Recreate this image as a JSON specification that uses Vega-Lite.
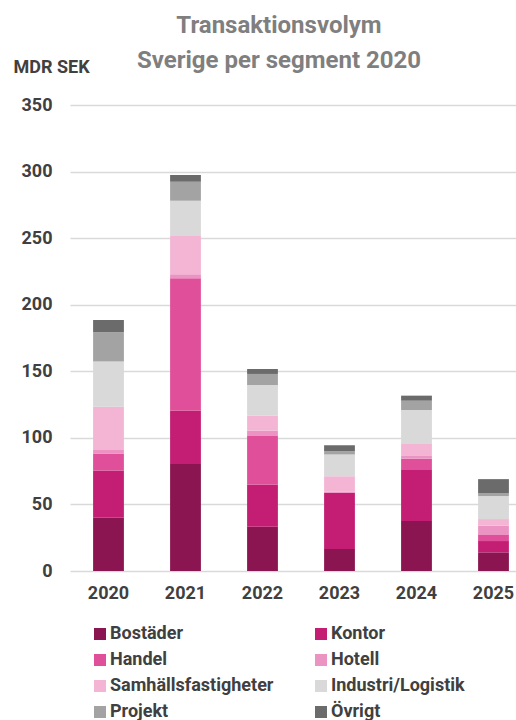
{
  "$schema": "https://vega.github.io/schema/vega-lite/v6.json",
  "width": 446,
  "height": 466,
  "autosize": {"type": "none"},
  "padding": {"left": 70, "top": 105, "right": 0, "bottom": 149},
  "background": "white",
  "title": {
    "text": "Transaktionsvolym",
    "subtitle": "Sverige per segment 2020",
    "anchor": "middle",
    "frame": "group",
    "dx": -14,
    "offset": -15,
    "font": "Roboto",
    "fontSize": 24,
    "fontWeight": "bold",
    "color": "#7f7f7f",
    "subtitleFont": "Roboto",
    "subtitleFontSize": 24,
    "subtitleFontWeight": "bold",
    "subtitleColor": "#7f7f7f",
    "subtitlePadding": 11
  },
  "config": {
    "view": {"stroke": null},
    "font": "Roboto"
  },
  "data": {
    "values": [
      {"year": "2020", "segment": "Bostäder", "order": 1, "value": 40},
      {"year": "2020", "segment": "Kontor", "order": 2, "value": 35.5},
      {"year": "2020", "segment": "Handel", "order": 3, "value": 12.8},
      {"year": "2020", "segment": "Hotell", "order": 4, "value": 2.5},
      {"year": "2020", "segment": "Samhällsfastigheter", "order": 5, "value": 32.5},
      {"year": "2020", "segment": "Industri/Logistik", "order": 6, "value": 34},
      {"year": "2020", "segment": "Projekt", "order": 7, "value": 22},
      {"year": "2020", "segment": "Övrigt", "order": 8, "value": 9.3},
      {"year": "2021", "segment": "Bostäder", "order": 1, "value": 80.4},
      {"year": "2021", "segment": "Kontor", "order": 2, "value": 40},
      {"year": "2021", "segment": "Handel", "order": 3, "value": 99.4},
      {"year": "2021", "segment": "Hotell", "order": 4, "value": 3},
      {"year": "2021", "segment": "Samhällsfastigheter", "order": 5, "value": 28.8},
      {"year": "2021", "segment": "Industri/Logistik", "order": 6, "value": 26.4},
      {"year": "2021", "segment": "Projekt", "order": 7, "value": 14.4},
      {"year": "2021", "segment": "Övrigt", "order": 8, "value": 5},
      {"year": "2022", "segment": "Bostäder", "order": 1, "value": 33.3},
      {"year": "2022", "segment": "Kontor", "order": 2, "value": 31.5},
      {"year": "2022", "segment": "Handel", "order": 3, "value": 36.6},
      {"year": "2022", "segment": "Hotell", "order": 4, "value": 4},
      {"year": "2022", "segment": "Samhällsfastigheter", "order": 5, "value": 11.2},
      {"year": "2022", "segment": "Industri/Logistik", "order": 6, "value": 23.1},
      {"year": "2022", "segment": "Projekt", "order": 7, "value": 8.3},
      {"year": "2022", "segment": "Övrigt", "order": 8, "value": 3.7},
      {"year": "2023", "segment": "Bostäder", "order": 1, "value": 16.5},
      {"year": "2023", "segment": "Kontor", "order": 2, "value": 42},
      {"year": "2023", "segment": "Handel", "order": 3, "value": 0.5},
      {"year": "2023", "segment": "Hotell", "order": 4, "value": 0.7},
      {"year": "2023", "segment": "Samhällsfastigheter", "order": 5, "value": 11.5},
      {"year": "2023", "segment": "Industri/Logistik", "order": 6, "value": 16.3},
      {"year": "2023", "segment": "Projekt", "order": 7, "value": 2.5},
      {"year": "2023", "segment": "Övrigt", "order": 8, "value": 4.5},
      {"year": "2024", "segment": "Bostäder", "order": 1, "value": 37.6},
      {"year": "2024", "segment": "Kontor", "order": 2, "value": 38.8},
      {"year": "2024", "segment": "Handel", "order": 3, "value": 8},
      {"year": "2024", "segment": "Hotell", "order": 4, "value": 2},
      {"year": "2024", "segment": "Samhällsfastigheter", "order": 5, "value": 9},
      {"year": "2024", "segment": "Industri/Logistik", "order": 6, "value": 25.5},
      {"year": "2024", "segment": "Projekt", "order": 7, "value": 7},
      {"year": "2024", "segment": "Övrigt", "order": 8, "value": 3.8},
      {"year": "2025", "segment": "Bostäder", "order": 1, "value": 14},
      {"year": "2025", "segment": "Kontor", "order": 2, "value": 8.5},
      {"year": "2025", "segment": "Handel", "order": 3, "value": 5},
      {"year": "2025", "segment": "Hotell", "order": 4, "value": 6.5},
      {"year": "2025", "segment": "Samhällsfastigheter", "order": 5, "value": 5},
      {"year": "2025", "segment": "Industri/Logistik", "order": 6, "value": 17.3},
      {"year": "2025", "segment": "Projekt", "order": 7, "value": 2},
      {"year": "2025", "segment": "Övrigt", "order": 8, "value": 10.7}
    ]
  },
  "mark": {"type": "bar"},
  "encoding": {
    "x": {
      "field": "year",
      "type": "ordinal",
      "scale": {"range": [0, 462], "paddingInner": 0.6, "paddingOuter": 0.3},
      "axis": {
        "title": null,
        "domain": false,
        "ticks": false,
        "labelAngle": 0,
        "labelPadding": 13,
        "labelFont": "Roboto",
        "labelFontSize": 18,
        "labelFontWeight": "bold",
        "labelColor": "#404040"
      }
    },
    "y": {
      "field": "value",
      "type": "quantitative",
      "stack": "zero",
      "scale": {"domain": [0, 350], "nice": false},
      "axis": {
        "title": "MDR SEK",
        "titleAngle": 0,
        "titleAlign": "left",
        "titleBaseline": "alphabetic",
        "titleX": -57,
        "titleY": -33,
        "titleFont": "Roboto",
        "titleFontSize": 18,
        "titleFontWeight": "bold",
        "titleColor": "#404040",
        "values": [0, 50, 100, 150, 200, 250, 300, 350],
        "domain": false,
        "ticks": false,
        "grid": true,
        "gridColor": "#d9d9d9",
        "gridWidth": 1.5,
        "labelPadding": 18,
        "labelFont": "Roboto",
        "labelFontSize": 18,
        "labelFontWeight": "bold",
        "labelColor": "#404040"
      }
    },
    "color": {
      "field": "segment",
      "type": "nominal",
      "scale": {
        "domain": ["Bostäder", "Kontor", "Handel", "Hotell", "Samhällsfastigheter", "Industri/Logistik", "Projekt", "Övrigt"],
        "range": ["#8a1550", "#c41e74", "#e0509a", "#eb94c3", "#f3b5d3", "#d9d9d9", "#a3a3a3", "#6b6b6b"]
      },
      "legend": {
        "title": null,
        "orient": "none",
        "legendX": 21,
        "legendY": 520,
        "values": ["Bostäder", "Handel", "Samhällsfastigheter", "Projekt", "Kontor", "Hotell", "Industri/Logistik", "Övrigt"],
        "columns": 2,
        "columnPadding": 38,
        "rowPadding": 8,
        "symbolType": "square",
        "symbolSize": 144,
        "symbolStrokeWidth": 0,
        "labelOffset": 1,
        "labelLimit": 300,
        "labelFont": "Roboto",
        "labelFontSize": 18,
        "labelFontWeight": "bold",
        "labelColor": "#404040"
      }
    },
    "order": {"field": "order", "type": "quantitative"}
  }
}
